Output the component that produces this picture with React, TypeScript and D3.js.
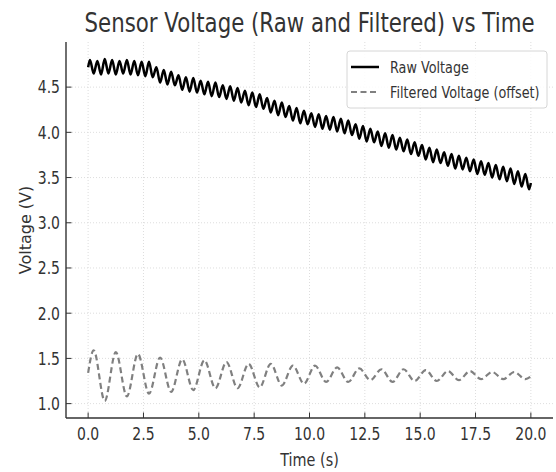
import * as d3 from "d3";

// chart text
const title = "Sensor Voltage (Raw and Filtered) vs Time";
const xLabel = "Time (s)";
const yLabel = "Voltage (V)";
const seriesNames = ["Raw Voltage", "Filtered Voltage (offset)"];

// tick values
const xTicks = [0, 2.5, 5, 7.5, 10, 12.5, 15, 17.5, 20];
const yTicks = [1.0, 1.5, 2.0, 2.5, 3.0, 3.5, 4.0, 4.5];

// raw voltage: value at t=0, then crest / trough every 1/6 s from t=1/12, then value at t=20
const rawStart = 4.72;
const rawEnd = 3.44;
const rawSwings = [
  4.80, 4.65, 4.79, 4.64, 4.81, 4.65,
  4.80, 4.64, 4.79, 4.65, 4.80, 4.64,
  4.79, 4.63, 4.78, 4.62, 4.78, 4.61,
  4.72, 4.55, 4.69, 4.53, 4.67, 4.52,
  4.63, 4.47, 4.61, 4.45, 4.60, 4.44,
  4.57, 4.42, 4.56, 4.40, 4.55, 4.39,
  4.52, 4.37, 4.51, 4.35, 4.49, 4.33,
  4.46, 4.30, 4.44, 4.28, 4.42, 4.26,
  4.38, 4.22, 4.35, 4.19, 4.33, 4.17,
  4.29, 4.13, 4.27, 4.10, 4.24, 4.09,
  4.21, 4.06, 4.20, 4.04, 4.18, 4.03,
  4.17, 4.01, 4.15, 3.99, 4.13, 3.97,
  4.09, 3.93, 4.07, 3.90, 4.04, 3.89,
  4.01, 3.85, 3.99, 3.83, 3.97, 3.81,
  3.94, 3.79, 3.92, 3.76, 3.89, 3.74,
  3.86, 3.70, 3.83, 3.67, 3.81, 3.66,
  3.78, 3.63, 3.76, 3.60, 3.74, 3.59,
  3.72, 3.57, 3.70, 3.54, 3.68, 3.53,
  3.66, 3.50, 3.64, 3.48, 3.62, 3.46,
  3.60, 3.43, 3.57, 3.40, 3.54, 3.37,
];

// filtered voltage: peaks at k+0.25 s, troughs at k+0.75 s
const filtStart = 1.34;
const filtEnd = 1.30;
const filtPeaks = [1.59, 1.57, 1.55, 1.51, 1.49, 1.48, 1.46, 1.44, 1.44, 1.42,
  1.42, 1.40, 1.39, 1.38, 1.38, 1.37, 1.36, 1.36, 1.35, 1.35];
const filtTroughs = [1.03, 1.08, 1.11, 1.13, 1.15, 1.17, 1.17, 1.18, 1.20, 1.22,
  1.24, 1.24, 1.26, 1.24, 1.25, 1.25, 1.26, 1.27, 1.27, 1.27];

type Pt = { t: number; v: number };

const raw: Pt[] = [
  { t: 0, v: rawStart },
  ...rawSwings.map((v, i) => ({ t: 1 / 12 + i / 6, v })),
  { t: 20, v: rawEnd },
];

const filtered: Pt[] = [
  { t: 0, v: filtStart },
  ...filtPeaks.flatMap((p, k) => [
    { t: k + 0.25, v: p },
    { t: k + 0.75, v: filtTroughs[k] },
  ]),
  { t: 20, v: filtEnd },
];

const W = 556;
const H = 472;
const margin = { top: 42, right: 3, bottom: 54, left: 66 };
const FONT = "DejaVu Sans, sans-serif";
const TEXT = "#333";
const SX = 0.8; // the picture is squeezed horizontally

// text squeezed in x around its anchor
function Label(props: {
  x: number; y: number; size: number; anchor?: string; dy?: string; sx?: number;
  rotate?: boolean; children: string;
}) {
  const { x, y, size, anchor = "start", dy, sx = SX, rotate, children } = props;
  const tf = rotate
    ? `translate(${x},${y}) rotate(-90) scale(1,${sx})`
    : `translate(${x},${y}) scale(${sx},1)`;
  return (
    <text transform={tf} textAnchor={anchor} dy={dy} fontSize={size} fill={TEXT}>
      {children}
    </text>
  );
}

export default function App() {
  const innerW = W - margin.left - margin.right;
  const innerH = H - margin.top - margin.bottom;

  // matplotlib-like 5% margins
  const padded = (lo: number, hi: number) => {
    const p = (hi - lo) * 0.05;
    return [lo - p, hi + p];
  };
  const allV = [...raw, ...filtered].map((d) => d.v);
  const x = d3.scaleLinear().domain(padded(0, 20)).range([0, innerW]);
  const y = d3
    .scaleLinear()
    .domain(padded(d3.min(allV)!, d3.max(allV)!))
    .range([innerH, 0]);

  const line = d3
    .line<Pt>()
    .x((d) => x(d.t))
    .y((d) => y(d.v))
    .curve(d3.curveMonotoneX);

  const legW = 200;
  const legLeft = innerW - 6 - legW;
  const legTop = 9;

  return (
    <svg
      width={W}
      height={H}
      style={{ position: "absolute", left: 0, top: 0, background: "#fff" }}
      fontFamily={FONT}
    >
      <Label x={margin.left + innerW / 2} y={31.5} size={26} sx={0.82} anchor="middle">
        {title}
      </Label>

      <g transform={`translate(${margin.left},${margin.top})`}>
        {/* grid */}
        {xTicks.map((t) => (
          <line key={"gx" + t} x1={x(t)} x2={x(t)} y1={0} y2={innerH}
            stroke="#d4d4d4" strokeWidth={0.8} strokeDasharray="1,2" />
        ))}
        {yTicks.map((t) => (
          <line key={"gy" + t} x1={0} x2={innerW} y1={y(t)} y2={y(t)}
            stroke="#d4d4d4" strokeWidth={0.8} strokeDasharray="1,2" />
        ))}

        {/* series */}
        <path d={line(raw)!} fill="none" stroke="#000" strokeWidth={2.5} strokeLinejoin="round" />
        <path d={line(filtered)!} fill="none" stroke="#808080" strokeWidth={2.2}
          strokeDasharray="6,3.5" />

        {/* spines */}
        <line x1={0} x2={0} y1={0} y2={innerH} stroke="#333" strokeWidth={1.4} />
        <line x1={0} x2={innerW} y1={innerH} y2={innerH} stroke="#333" strokeWidth={1.4} />

        {/* x ticks */}
        {xTicks.map((t) => (
          <g key={"xt" + t}>
            <line x1={x(t)} x2={x(t)} y1={innerH} y2={innerH - 5.5} stroke="#333" strokeWidth={1} />
            <Label x={x(t)} y={innerH + 21.7} size={17.5} anchor="middle">
              {t.toFixed(1)}
            </Label>
          </g>
        ))}
        {/* y ticks */}
        {yTicks.map((t) => (
          <g key={"yt" + t}>
            <line x1={0} x2={5.5} y1={y(t)} y2={y(t)} stroke="#333" strokeWidth={1} />
            <Label x={-6} y={y(t)} dy="0.36em" size={17.5} anchor="end">
              {t.toFixed(1)}
            </Label>
          </g>
        ))}

        <Label x={innerW / 2} y={innerH + 47.5} size={18} anchor="middle">
          {xLabel}
        </Label>
        <Label x={-35} y={innerH / 2} size={16} sx={1} anchor="middle" rotate>
          {yLabel}
        </Label>

        {/* legend */}
        <g transform={`translate(${legLeft},${legTop})`}>
          <rect x={0} y={0} width={legW} height={57} rx={3} fill="#fff" fillOpacity={0.85}
            stroke="#d6d6d6" strokeWidth={1} />
          <line x1={4} x2={32} y1={16} y2={16} stroke="#000" strokeWidth={2.5} />
          <Label x={43} y={16} dy="0.36em" size={16}>{seriesNames[0]}</Label>
          <line x1={4} x2={32} y1={41} y2={41} stroke="#808080" strokeWidth={2.2}
            strokeDasharray="6,3.5" />
          <Label x={43} y={41} dy="0.36em" size={16}>{seriesNames[1]}</Label>
        </g>
      </g>
    </svg>
  );
}
